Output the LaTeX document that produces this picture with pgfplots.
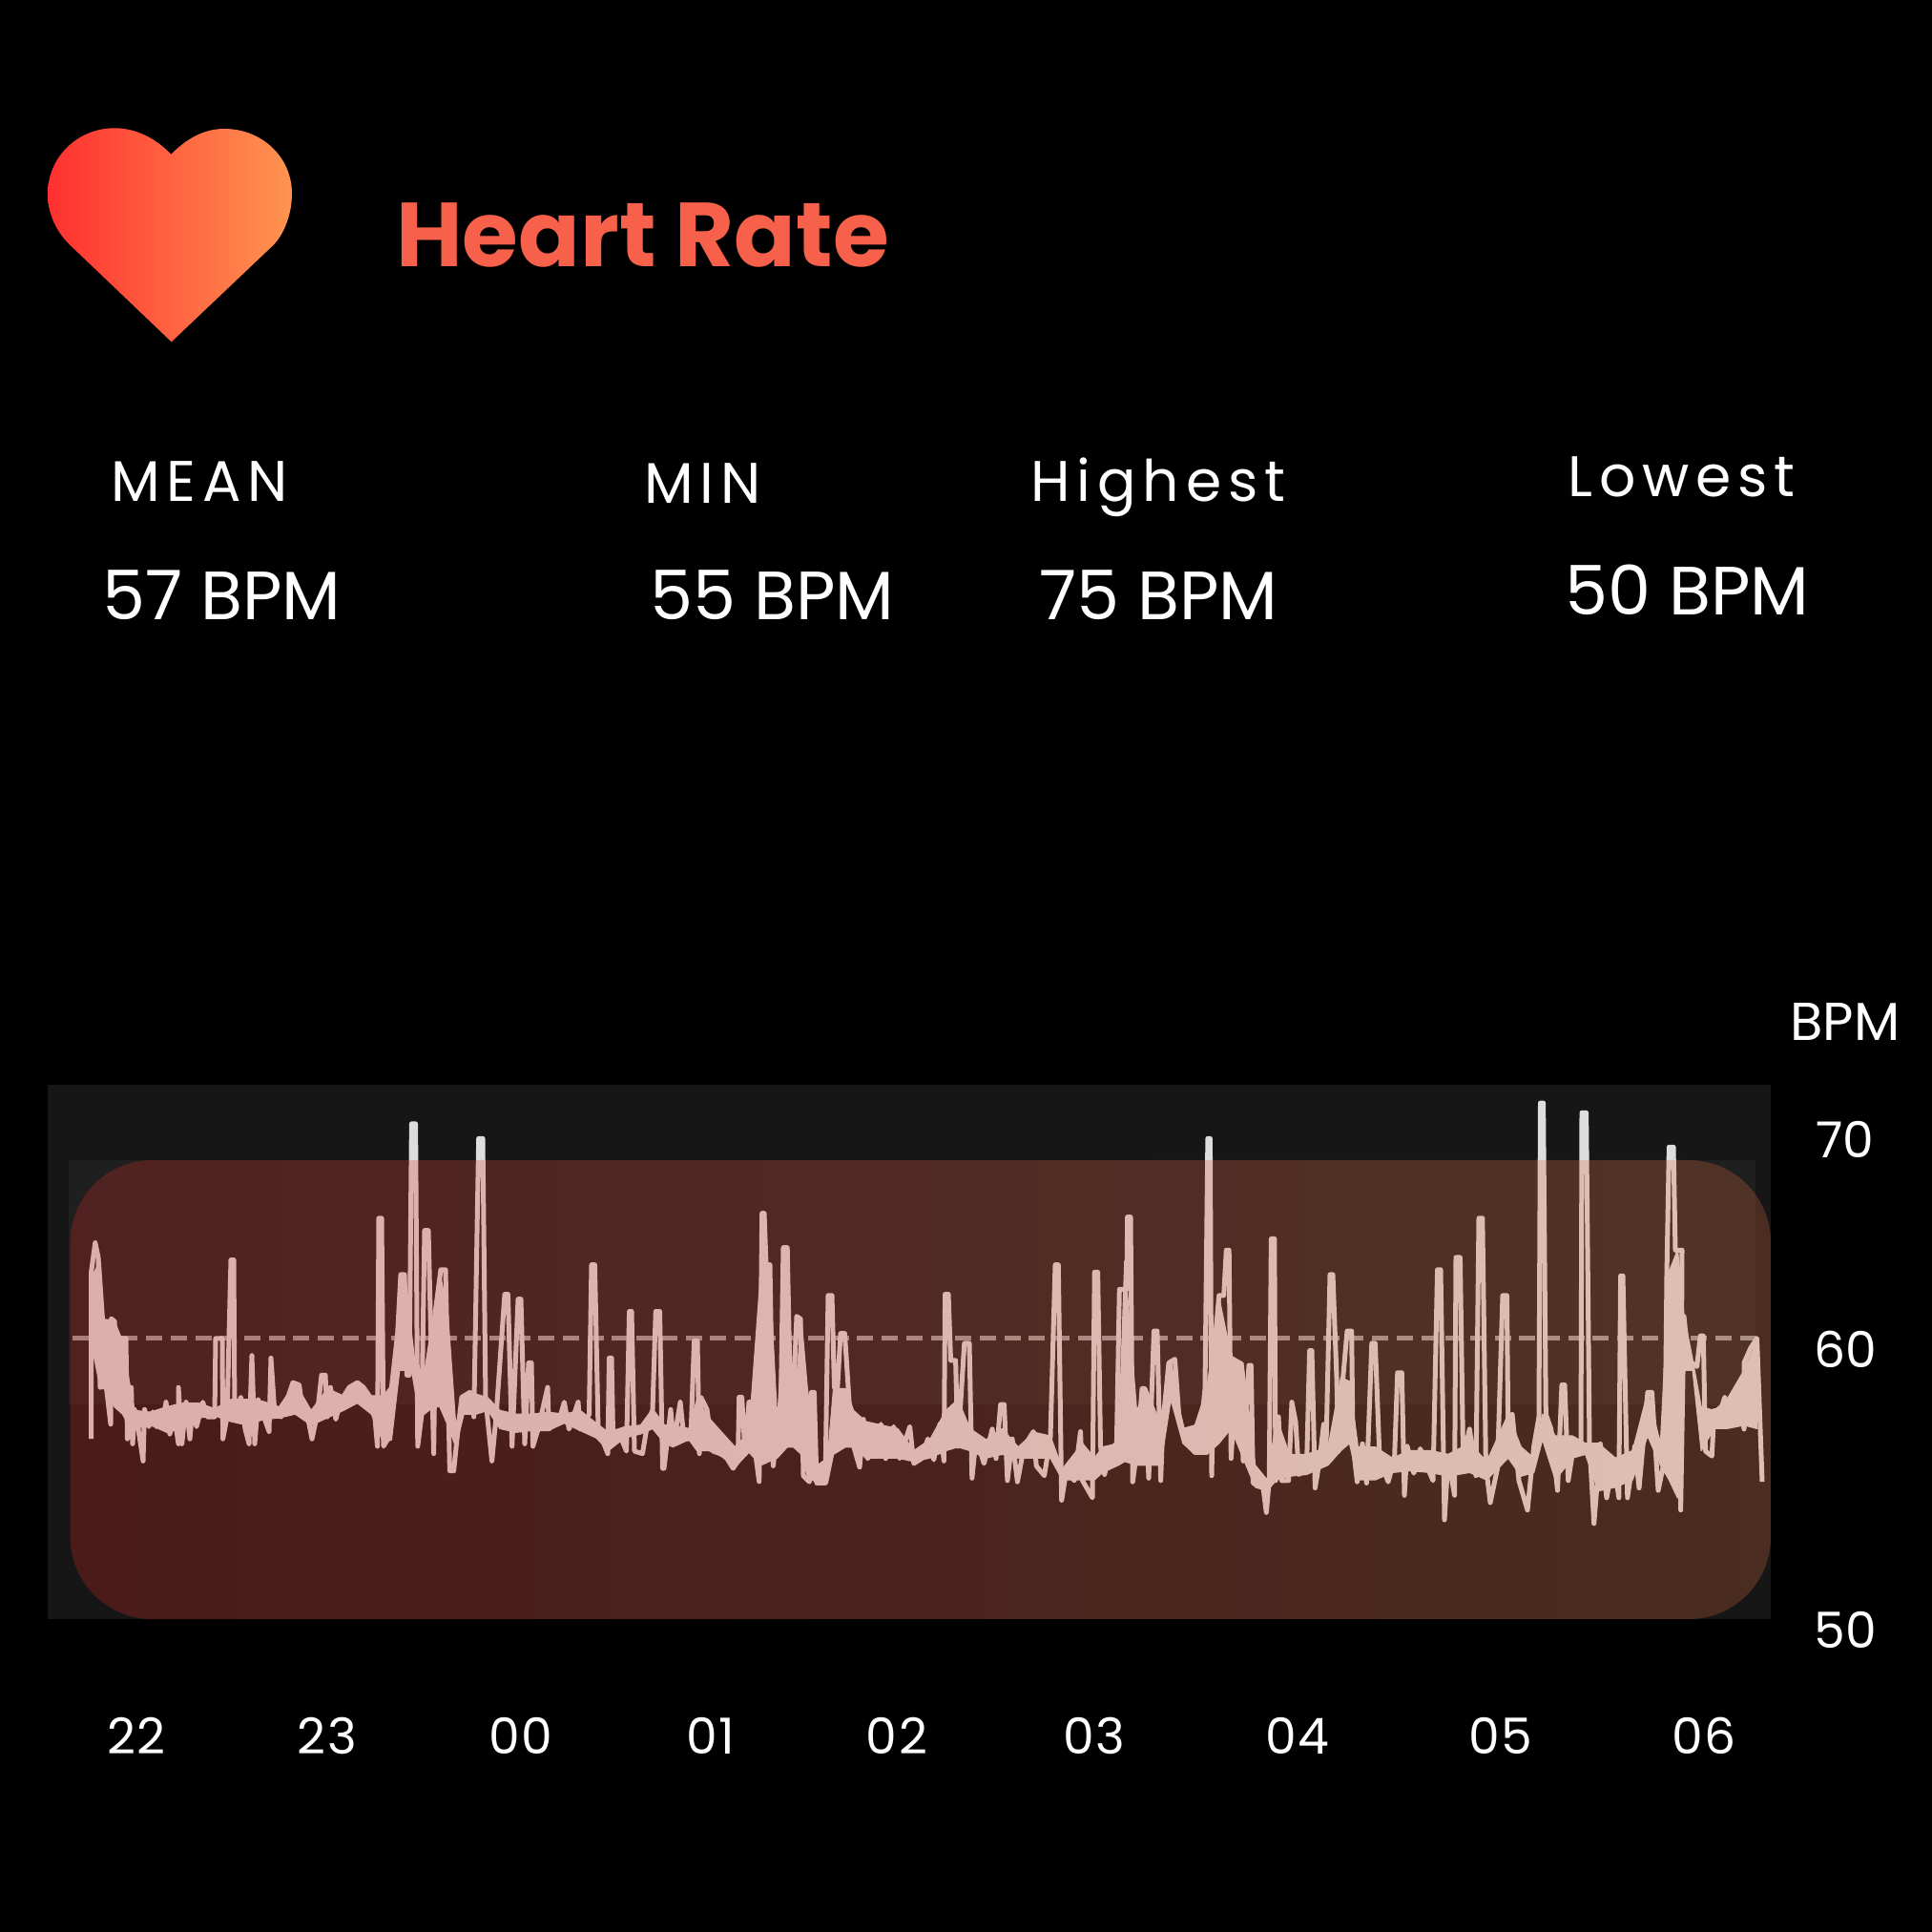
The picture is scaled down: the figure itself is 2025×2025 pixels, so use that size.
\documentclass[border=0pt]{standalone}
\usepackage{fontspec}
\usepackage{pgfplots}
\pgfplotsset{compat=1.18}
\setmainfont{Poppins}
\newfontfamily\spacedfont[LetterSpace=11.4]{Poppins}
\newfontfamily\tickfont[LetterSpace=3]{Poppins}
\definecolor{panelbg}{HTML}{161616}
\definecolor{panelband}{HTML}{1F1F1F}
\definecolor{overlayL}{RGB}{220,42,34}
\definecolor{overlayR}{RGB}{220,110,61}
\definecolor{hrline}{HTML}{DDDDDD}
\definecolor{meanline}{HTML}{9C9C9C}
\definecolor{titlecol}{HTML}{F7604A}
\definecolor{heartL}{RGB}{255,48,48}
\definecolor{heartR}{RGB}{255,148,80}
\begin{document}
\begin{tikzpicture}
% 1 reference pixel = 0.5pt
\begin{scope}[x=0.5pt,y=-0.5pt]
  \fill[black] (0,0) rectangle (2025,2025);
  \fill[panelbg] (50,1137) rectangle (1856,1697);
  \fill[panelband] (72,1216) rectangle (1840,1472);
  % heart
  \shade[left color=heartL, right color=heartR]
    (179.3,161.7) .. controls (165,147) and (145,134.3) .. (120,134.3)
    .. controls (81,134.3) and (50,165) .. (50,203)
    .. controls (50,224) and (59,243) .. (73.3,256.7)
    -- (179.7,358.3) -- (286.7,256.7)
    .. controls (298,245) and (306,224) .. (306,203)
    .. controls (306,165) and (275,135) .. (235,135)
    .. controls (213,135) and (195,146) .. (179.3,161.7) -- cycle;
  \node[anchor=base west,inner sep=0pt,text=titlecol] at (415,279) {\fontsize{47.6}{56}\selectfont\bfseries Heart Rate};
  \begin{scope}[every node/.style={anchor=base west,inner sep=0pt,text=white}]
    \node at (116,525) {\fontsize{30}{37}\selectfont\spacedfont MEAN};
    \node at (675,527) {\fontsize{30}{37}\selectfont\spacedfont MIN};
    \node at (1080,525) {\fontsize{30}{37}\selectfont\spacedfont Highest};
    \node at (1643,520) {\fontsize{30}{37}\selectfont\spacedfont Lowest};
    \node at (107,649) {\fontsize{35.8}{44}\selectfont 57 BPM};
    \node at (681,649) {\fontsize{35.8}{44}\selectfont 55 BPM};
    \node at (1089,649) {\fontsize{35.8}{44}\selectfont 75 BPM};
    \node at (1640,644) {\fontsize{35.8}{44}\selectfont 50 BPM};
    \node at (1876,1090) {\fontsize{28}{32}\selectfont BPM};
  \end{scope}
\end{scope}
\begin{axis}[
    at={(25pt,-860.75pt)}, anchor=south west,
    scale only axis, width=903pt, height=292.25pt,
    xmin=50, xmax=1856, ymin=49.5, ymax=72.24,
    axis line style={draw=none},
    tick style={draw=none},
    major tick length=0pt,
    xtick={142.7,343,546,745,940,1147,1360,1573,1786},
    xticklabels={22,23,00,01,02,03,04,05,06},
    % the 60 label stands above its place on the scale in the reference
    ytick={50,61.44,70},
    yticklabels={50,60,70},
    ytick pos=right,
    xticklabel style={font=\fontsize{26}{32}\selectfont\tickfont,text=white,anchor=base,yshift=-58.4pt},
    yticklabel style={font=\fontsize{26}{32}\selectfont,text=white,anchor=center,xshift=39pt},
  ]
\addplot[meanline, line width=2.5pt, dash pattern=on 8.5pt off 4.35pt] coordinates {(76,61.9) (1841,61.9)};
% dense noise band of the trace: upper edge left to right, lower edge back
\addplot[fill=hrline, draw=hrline, line width=0.6pt, line join=round] coordinates {
(96.8,64.47)(105.2,65.06)(109.4,62.68)(120,62.61)(128.4,61.79)(136.8,59.85)(141,58.96)(157.9,58.89)(174.7,59.11)(191.5,59.26)
(208.4,59.26)(225.2,59.03)(242,59.41)(258.9,59.41)(275.7,59.33)(292.5,59.11)(309.4,60.08)(326.2,58.96)(343,59.85)(359.9,59.56)
(374.6,60.08)(389.3,59.56)(402,59.56)(410.4,60)(418.8,62.98)(425.1,64.47)(431.4,62.09)(439.9,59.26)(454.6,62.98)(460.9,64.62)
(469.3,62.98)(477.7,58.36)(486.2,59.63)(498.8,59.63)(511.4,59.48)(524,58.96)(540.9,58.81)(557.7,58.81)(574.5,58.89)(591.4,58.81)
(608.2,58.96)(625,58.44)(637.7,58.07)(654.5,58.29)(671.4,58.36)(684,59.03)(696.6,58.36)
(705.3,58.36)(722,58.22)(730.5,59.41)(743,58.66)(760,57.92)(770.5,57.47)(785,58.07)(797.9,64.92)(806.3,64.92)(814.7,58.51)
(825.2,65.51)(831.5,58.66)(840,62.68)(846.3,59.85)(856.8,56.73)(867.3,57.02)(873.6,59.85)(886.2,59.85)(894.7,58.96)(907.3,58.51)
(924.1,58.36)(941,58.22)(957.8,57.32)(974.6,57.77)(991.5,58.96)(1004,59.41)(1016.7,58.22)(1033.6,57.77)(1050.4,58.22)(1067.2,57.47)
(1084,58.07)(1100.9,57.92)(1113.5,56.58)(1134.6,57.62)(1147.2,57.02)(1155.6,57.47)(1172.4,57.62)(1178.8,65.06)(1191.4,58.96)(1201.9,59.85)
(1216.6,58.36)(1227.2,61.04)(1239.8,58.22)(1252.4,58.36)(1265,59.85)(1277.7,63.58)(1290.3,61.19)(1302.9,60.9)(1315.6,56.73)(1328.2,56.13)
(1338,58.66)(1351.5,57.17)(1369.5,57.17)(1392,57.47)(1405.4,60.3)(1414.4,60.15)(1423.4,57.47)(1441.4,57.47)(1459.4,57.02)(1477.4,57.32)
(1499.8,57.32)(1517.8,57.17)(1540.3,57.62)(1558.3,56.88)(1580.8,58.81)(1594.3,57.47)(1607.7,57.02)(1616.7,58.81)(1630.2,57.92)(1648.2,57.92)
(1661.7,57.62)(1675.2,57.62)(1693.2,57.02)(1711.2,57.32)(1726.9,59.7)(1740.4,57.62)(1749.4,64.62)(1758.4,65.51)(1765.1,62.83)(1774.1,61.04)
(1783.1,59.11)(1796.6,58.96)(1810.1,59.41)(1828,60.6)(1841.5,61.79)
(1841.5,58.22)(1828,58.36)(1810.1,58.22)(1796.6,58.22)(1783.1,57.32)(1774.1,60.6)(1765.1,60.6)(1758.4,55.39)(1749.4,56.13)(1740.4,56.73)
(1726.9,57.92)(1711.2,56.13)(1693.2,55.83)(1675.2,55.68)(1661.7,57.17)(1648.2,57.02)(1630.2,56.13)(1616.7,57.77)(1607.7,56.43)(1594.3,56.28)
(1580.8,57.02)(1558.3,56.13)(1540.3,56.43)(1517.8,56.28)(1499.8,56.43)(1477.4,56.5)(1459.4,56.43)(1441.4,56.13)(1423.4,56.13)(1414.4,57.62)
(1405.4,57.32)(1392,56.73)(1369.5,56.35)(1351.5,56.28)(1338,56.13)
(1328.2,55.68)(1315.6,55.83)(1302.9,57.02)(1290.3,58.22)(1277.7,57.62)(1265,57.17)(1252.4,57.17)(1239.8,57.62)(1227.2,59.41)(1216.6,56.73)
(1201.9,56.73)(1191.4,56.73)(1178.8,56.88)(1172.4,56.73)(1155.6,56.43)(1147.2,56.13)(1134.6,56.13)(1113.5,56.13)(1100.9,57.02)(1084,57.02)
(1067.2,57.02)(1050.4,57.17)(1033.6,57.02)(1016.7,57.32)(1004,57.47)(991.5,57.32)(974.6,57.02)(957.8,56.88)(941,57.02)(924.1,57.02)
(907.3,57.02)(894.7,57.47)(886.2,57.47)(873.6,57.17)(867.3,55.98)(856.8,55.98)(846.3,56.28)(840,57.17)(831.5,57.47)(825.2,57.47)
(814.7,57.02)(806.3,56.88)(797.9,56.73)(785,57.25)(770.5,56.65)(760,57.02)(743,57.32)(730.5,57.32)(722,57.77)(705.3,57.47)
(696.6,57.62)(684,58.22)(671.4,58)(654.5,57.84)(637.7,57.32)(625,57.84)(608.2,58.14)(591.4,58.44)(574.5,58.14)(557.7,58.14)
(540.9,58.07)(524,58.22)(511.4,58.96)(498.8,58.81)(486.2,58.81)(477.7,57.47)(469.3,58.36)(460.9,59.11)(454.6,59.11)(439.9,58.66)
(431.4,60.6)(425.1,60.6)(418.8,60.6)(410.4,57.77)(402,57.62)(389.3,58.81)(374.6,59.26)(359.9,58.96)(343,58.66)(326.2,58.36)
(309.4,58.81)(292.5,58.66)(275.7,58.59)(258.9,58.36)(242,58.51)(225.2,58.74)(208.4,58.66)(191.5,58.22)(174.7,58.07)(157.9,58.36)
(141,58.22)(136.8,58.22)(128.4,58.81)(120,59.11)(109.4,59.85)(105.2,59.85)(96.8,61.49)
} -- cycle;
\addplot[hrline, line width=2.5pt, line join=round] coordinates {
(95.6,57.8)(95.6,64.6)(99.8,65.8)(103,65.2)(105,59.9)(107,62.7)(111.5,59.9)(116,58.4)(116.6,62.7)(120,62.6)
(123,59.1)(126,61.4)(128,61.9)(132,61.9)(133.5,57.8)(137.6,59.9)(139,57.6)(141,59)(145,58.2)(150,56.9)
(151.5,59)(156,58.3)(160,58.9)(164,58.3)(170.5,58.5)(174,59.3)(178,58)(183,58.7)(187,57.6)(187,59.9)
(190.7,57.6)(195,59.3)(199,57.8)(202,59.1)(206,58.3)(212.6,59.3)(217,58.7)(225,58.7)(226,61.9)(233,61.9)
(233.6,57.8)(238,58.7)(242,65.1)(245,65.1)(246,58.7)(252.5,59.5)(257,58.2)(261,57.6)(264,61.2)(267,57.6)
(270.6,59.4)(275.7,58.8)(282,58.1)(284,61.1)(288,58.8)(294.6,58.7)(301,59.4)(307,60.1)(313.6,60)(318,58.7)
(322,58.8)(327,57.8)(332.5,58.8)(337,60.4)(341,60.4)(343,58.7)(346.4,59.9)(352,58.6)(356.5,59.3)(366,59.9)
(374.6,60.1)(381,59.9)(391.5,59.3)(395.6,57.5)(397,66.8)(400,66.8)(402,57.5)(408,57.9)(410.4,59.9)(416.7,62.1)
(420,64.5)(424,64.5)(426.4,60.4)(429,60.4)(431.4,70.65)(435.6,70.65)(437.8,57.5)(442,58.8)(445,66.3)(449,66.3)
(454.6,57.2)(456.7,63.1)(462,64.7)(467,64.7)(471.4,56.5)(475.6,56.5)(480,58.2)(484,59.5)(492.5,59.7)(496.7,58.7)
(501.7,70.05)(506,70.05)(509,59.4)(515.6,56.9)(520,58.7)(529,63.7)(532.4,63.7)(536.7,57.5)(543,63.5)(546,63.5)
(550,57.6)(554,60.9)(557,60.9)(558.6,57.5)(564,58.2)(574,59.9)(575.4,58.2)(587,58.7)(591.4,59.3)(596.4,58.2)
(606,59.3)(608,58.2)(617.5,58.8)(620,64.9)(623.4,64.9)(627,58.2)(637,57.2)(638.5,61.1)(641,61.1)(642.7,57.6)
(650.3,57.9)(656.6,57.3)(659.6,63)(662,63)(665,57.3)(673.4,57.2)(677.7,58.2)(684,59)(687.3,63)(691.5,63)
(694.5,56.6)(696,56.6)(699,57.6)(703,59)(706,57.6)(713,59.3)(717,57.8)(724,57.8)(727.6,61.8)(731,61.8)
(733,57.2)(734.7,59.5)(741,59)(747.3,57.3)(755.8,57.2)(762,57)(768.4,56.6)(773.4,56.9)(774.7,59.5)(777.6,59.5)
(781,57.2)(785,59.3)(788.6,59.3)(791.5,57.3)(795.7,56.06)(798.7,67)(801,67)(803,64.9)(807,64.9)(810.5,56.7)
(814.7,58.4)(818,58.2)(821,65.6)(825.2,65.6)(829.4,57.6)(835,62.8)(839,62.7)(842,56.3)(848.4,56.05)(850.5,59.7)
(853.4,59.7)(856,56)(865,56)(868,63.65)(872,63.65)(874.5,59.9)(877.8,59.9)(881,62.1)(885.4,62.1)(890.4,59.1)
(894.7,57.5)(901,56.65)(905,58.6)(909.4,57)(913.6,57.2)(923.3,58.4)(928.3,57)(936.7,58.3)(943,57)(953.6,58.3)
(957.8,56.8)(966,57)(972.5,57.8)(978.8,56.95)(985,58.4)(989.4,56.9)(990.6,63.7)(994,63.7)(996.5,61)(1001.6,61)
(1004,57.5)(1010.8,61.7)(1016,61.7)(1018.8,56.2)(1023,57.8)(1031.4,56.8)(1040,58.2)(1044,57)(1048.7,59.2)(1052.5,59.2)
(1055.9,56.1)(1061,57.8)(1066.4,56.05)(1073.5,57.5)(1083.2,58.1)(1086.2,56.7)(1094.6,56.3)(1101,57.9)(1106,64.9)(1109.3,64.9)
(1112.7,55.3)(1117.7,56.5)(1126,56.1)(1132.5,58.1)(1134.6,56.1)(1145,55.4)(1147.2,64.6)(1150.6,64.6)(1153.5,57.5)(1157.7,56.35)
(1164,57.4)(1170.4,57.6)(1173.3,63.9)(1181,63.9)(1181.7,66.85)(1185,66.85)(1187.2,56.05)(1192.6,57.6)(1197,59.85)(1199.8,59.85)
(1204,56.2)(1209.5,62.2)(1212.9,62.2)(1216.6,56.1)(1218.8,58.4)(1225,60.9)(1231.4,61.05)(1235.6,58.8)(1242,57.8)(1252.4,57.25)
(1258.7,58.2)(1263,59.85)(1265.9,70.05)(1268.4,70.05)(1270,56.3)(1272.6,61.4)(1277.7,63.65)(1282.7,63.65)(1285.3,65.5)(1288.2,65.5)
(1290.3,57)(1296.6,60.9)(1299.6,60.9)(1303,56.9)(1309,60.8)(1311.3,60.8)(1313.4,56)(1324,55.8)(1327.3,54.8)(1330.3,56.1)
(1332.4,65.96)(1335.8,65.96)(1337,56.1)(1340,58.7)(1343.4,56.1)(1350.6,56.1)(1354,59.3)(1358,58.5)(1361.4,56.35)(1369.5,56.6)
(1372.6,61.4)(1375,61.4)(1378.4,55.8)(1383,56.9)(1387.4,58.4)(1389.7,57)(1394,64.5)(1397,64.5)(1401,60.3)(1403,57.3)
(1407.7,60.3)(1412,62.2)(1416.7,62.2)(1418,57.6)(1422.5,56.05)(1428,57.6)(1432.4,56)(1437.8,61.7)(1441.4,61.7)(1446,57)
(1455,56.05)(1461.6,57)(1464.8,60.5)(1469.3,60.5)(1472,55.5)(1475,57.5)(1481.9,56.4)(1488.6,57.4)(1497.6,56.5)(1502,56.1)
(1506.6,64.7)(1510,64.7)(1514,54.5)(1517.8,57)(1524.6,55.5)(1526,65.2)(1530.4,65.2)(1533.6,57)(1540.3,58.2)(1547,56.3)
(1550,66.8)(1553.8,66.8)(1557.4,56.7)(1562,55.2)(1569.5,56.6)(1575,63.65)(1579.4,63.65)(1580.8,57.8)(1585,58.8)(1592,56.1)
(1601,54.9)(1607.7,57.5)(1613,58.7)(1614.5,71.5)(1617.6,71.5)(1620.3,58.8)(1625.7,58.2)(1632.5,55.7)(1637,60)(1640,60)
(1643.7,56.1)(1650.5,57.8)(1657,57.2)(1658,71.1)(1662.6,71.1)(1666,57.6)(1670.7,54.35)(1677.4,57.6)(1684,55.4)(1691,56.95)
(1696.8,55.4)(1698.6,64.45)(1701,64.45)(1705.8,55.4)(1713.4,57.5)(1718,55.8)(1727,59.7)(1731.4,59.7)(1738,55.7)(1745,57)
(1747,64.5)(1749.4,69.7)(1754,69.7)(1756,65.5)(1763,65.5)(1761.6,54.9)(1765,62.8)(1769.6,61)(1778.6,60.75)(1782.2,62)
(1785.3,62)(1787.6,57.3)(1794.3,57.1)(1796.6,58.95)(1803.3,58.95)(1807.8,59.5)(1814.6,58.4)(1823.5,59.3)(1828,58.2)(1828,60.9)
(1834.8,61.5)(1841.5,61.9)(1847,56.05)
};
% tinted rounded panel lies over the trace, so spikes stay pale above it
\path[left color=overlayL, right color=overlayR, fill opacity=0.263, rounded corners=43pt]
  (axis cs:73.7,50.45) rectangle (axis cs:1856,69.17);
\end{axis}
\end{tikzpicture}
\end{document}
